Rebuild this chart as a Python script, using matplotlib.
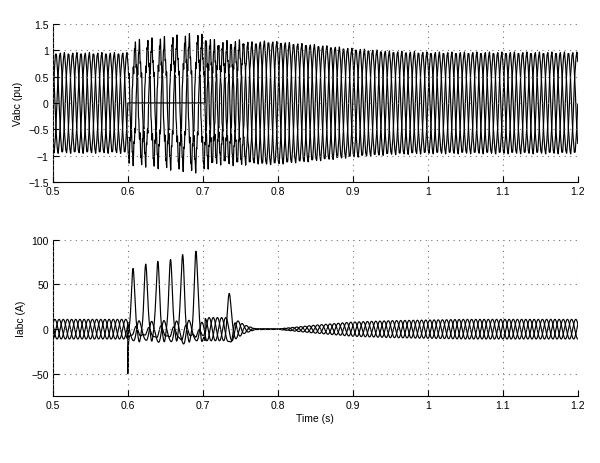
import numpy as np
import matplotlib
matplotlib.use("Agg")
import matplotlib.pyplot as plt

plt.rcParams['font.family'] = ['Liberation Sans', 'DejaVu Sans']
plt.rcParams['font.size'] = 7.5

# ---- data ----
freq_hz = 60.0
t_start, t_end = 0.5, 1.2
fault_on, fault_off = 0.6, 0.703

# voltage envelope (pu) of the healthy phases
v_env_t = [0.50, 0.60, 0.601, 0.63, 0.66, 0.69, 0.70, 0.72, 0.75, 0.78, 0.80, 0.85, 0.90, 0.95, 1.00, 1.20]
v_env   = [0.92, 0.92, 0.98, 1.03, 1.08, 1.13, 1.10, 1.00, 1.06, 1.14, 1.13, 1.07, 1.00, 0.95, 0.93, 0.93]
# harmonic distortion level in voltage
v_dist_t = [0.50, 0.60, 0.601, 0.70, 0.75, 0.77, 1.20]
v_dist   = [0.04, 0.04, 0.20, 0.20, 0.14, 0.04, 0.04]

# current envelope (A) of the sinusoidal part
i_env_t = [0.50, 0.60, 0.601, 0.70, 0.705, 0.74, 0.755, 0.77, 0.80, 0.85, 0.90, 0.95, 1.05, 1.20]
i_env   = [11.0, 11.0, 10.0, 10.0, 13.0, 13.0, 5.0, 0.5, 0.3, 4.5, 8.0, 9.5, 11.0, 11.0]
# fault-current pulses on the faulted phase
pulse_t    = [0.607, 0.624, 0.640, 0.657, 0.673, 0.691]
pulse_peak = [68, 73, 76, 78, 84, 88]
# post-fault bump
bump_t, bump_peak, bump_trough = 0.735, 28, -18
# inrush spike at fault inception
spike_t, spike_val = 0.600, -45

# ---- build waveforms ----
t = np.arange(t_start, t_end, 5e-5)
w = 2 * np.pi * freq_hz
ph = [0, -2 * np.pi / 3, 2 * np.pi / 3]
venv = np.interp(t, v_env_t, v_env)
vd = np.interp(t, v_dist_t, v_dist)
fault = (t >= fault_on) & (t < fault_off)

V = []
for k, p in enumerate(ph):
    v = venv * np.sin(w * t + p) + vd * (np.sin(5 * (w * t + p)) * 0.6 + np.sin(11 * (w * t + p) + k) * 0.5)
    if k == 0:
        v = np.where(fault, 0.0, v)
    V.append(v)

ienv = np.interp(t, i_env_t, i_env)
pulses = np.zeros_like(t)
for tk, pk in zip(pulse_t, pulse_peak):
    pulses += (pk + 9) * np.exp(-((t - tk) / 0.0037) ** 2)
bump = bump_peak * np.exp(-((t - bump_t) / 0.003) ** 2)
bump_neg = bump_trough * np.exp(-((t - bump_t - 0.004) / 0.003) ** 2)
spike = np.where(t >= spike_t, spike_val * np.exp(-(t - spike_t) / 0.0006), 0.0)

I = []
for k, p in enumerate(ph):
    i = ienv * np.sin(w * t + p + 0.5)
    if k == 0:
        i = np.where(fault, pulses - 12 + 3 * np.sin(3 * w * t), i) + bump
    elif k == 1:
        i = i + np.where(fault, -0.22 * pulses + 3, 0.0) + spike + bump_neg
    else:
        i = i + np.where(fault, -0.15 * np.roll(pulses, 60) + 2, 0.0)
    I.append(i)

# ---- plot ----
fig = plt.figure(figsize=(6.0, 4.64), dpi=100)
ax1 = fig.add_axes([0.088, 0.606, 0.875, 0.340])
ax2 = fig.add_axes([0.088, 0.144, 0.875, 0.337])

for v in V:
    ax1.plot(t, v, color='black', lw=0.85)
for i in I:
    ax2.plot(t, i, color='black', lw=0.85)

xt = [0.5, 0.6, 0.7, 0.8, 0.9, 1.0, 1.1, 1.2]
xtl = ['0.5', '0.6', '0.7', '0.8', '0.9', '1', '1.1', '1.2']
for ax in (ax1, ax2):
    ax.set_xlim(t_start, t_end)
    ax.set_xticks(xt)
    ax.set_xticklabels(xtl)
    for s in ('top', 'right'):
        ax.spines[s].set_visible(False)
    ax.spines['left'].set_linewidth(0.8)
    ax.spines['bottom'].set_linewidth(0.8)
    ax.tick_params(direction='in', length=4, width=0.8, pad=3)
    ax.grid(True, linestyle=(0, (1, 4)), color='0.45', lw=0.8)
    ax.set_axisbelow(False)

ax1.set_ylim(-1.5, 1.5)
ax1.set_yticks([-1.5, -1, -0.5, 0, 0.5, 1, 1.5])
ax1.set_yticklabels(['\u22121.5', '\u22121', '\u22120.5', '0', '0.5', '1', '1.5'])
ax1.set_ylabel('Vabc (pu)')

ax2.set_ylim(-75, 100)
ax2.set_yticks([-50, 0, 50, 100])
ax2.set_yticklabels(['\u221250', '0', '50', '100'])
ax2.set_ylabel('Iabc (A)')
ax2.set_xlabel('Time (s)', labelpad=2)

fig.savefig('out.png', dpi=100)
